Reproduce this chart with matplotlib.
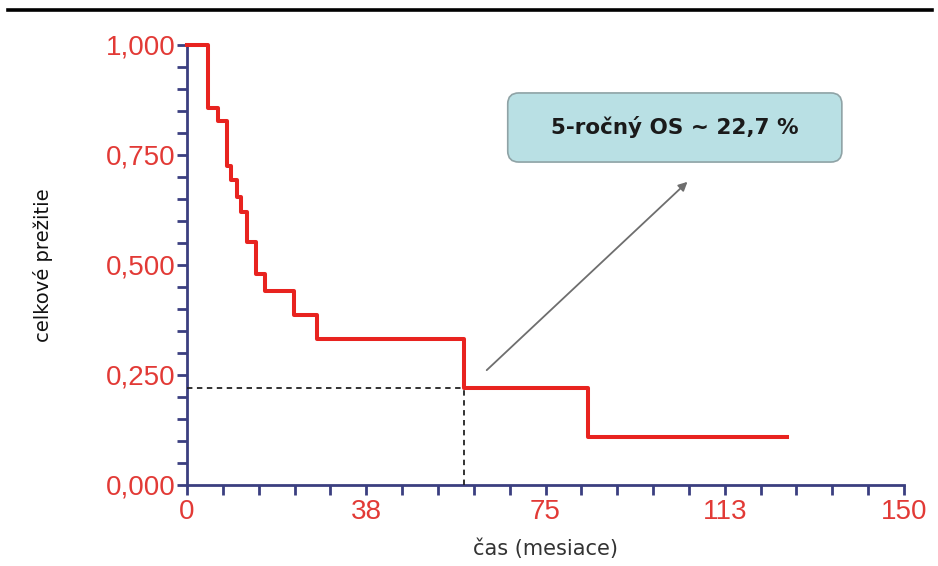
import matplotlib
matplotlib.use("Agg")
import matplotlib.pyplot as plt
from matplotlib.patches import FancyBboxPatch
from matplotlib.lines import Line2D
import numpy as np

# ---- data ----
times = [0, 4.4, 6.5, 8.4, 9.3, 10.4, 11.2, 12.6, 14.4, 16.3, 22.4, 27.1, 57.9, 83.8, 125.6]
survival = [1.0, 0.857, 0.828, 0.726, 0.693, 0.655, 0.621, 0.553, 0.479, 0.442, 0.386, 0.331, 0.220, 0.110, 0.110]
os_time = 57.9
os_value = 0.220
y_ticks_major = [0.0, 0.25, 0.5, 0.75, 1.0]
y_tick_labels = ["0,000", "0,250", "0,500", "0,750", "1,000"]
x_ticks_major = [0, 37.5, 75, 112.5, 150]
x_tick_labels = ["0", "38", "75", "113", "150"]
box_text = "5-ročný OS ~ 22,7 %"
xlabel = "čas (mesiace)"
ylabel = "celkové prežitie"

RED = "#e8231f"
RED_TXT = "#e23a36"
NAVY = "#3b3f80"

fig = plt.figure(figsize=(9.38, 5.66), dpi=100)
ax = fig.add_axes([187/938, 1-485/566, (904-187)/938, (485-45)/566])

ax.set_xlim(0, 150)
ax.set_ylim(0, 1)

# curve
ax.step(times, survival, where="post", color=RED, lw=2.9, clip_on=False, zorder=4)

# dashed guide lines
ax.plot([0, os_time], [os_value, os_value], ls=(0, (3, 2.5)), color="#222222", lw=1.3, zorder=3)
ax.plot([os_time, os_time], [0, os_value], ls=(0, (3, 2.5)), color="#222222", lw=1.3, zorder=3)

# spines
for s in ["top", "right"]:
    ax.spines[s].set_visible(False)
for s in ["left", "bottom"]:
    ax.spines[s].set_color(NAVY)
    ax.spines[s].set_linewidth(2)

ax.set_yticks(y_ticks_major)
ax.set_yticklabels(y_tick_labels)
ax.set_yticks(np.arange(0, 1.0001, 0.05), minor=True)
ax.set_xticks(x_ticks_major)
ax.set_xticklabels(x_tick_labels)
ax.set_xticks(np.arange(0, 150.001, 7.5), minor=True)

ax.tick_params(axis="both", which="both", direction="out", length=7, width=2, color=NAVY)
ax.tick_params(axis="y", which="major", labelsize=20, labelcolor=RED_TXT, pad=1)
ax.tick_params(axis="x", which="major", labelsize=20, labelcolor=RED_TXT, pad=3)
for lab in ax.get_xticklabels() + ax.get_yticklabels():
    lab.set_family(["Liberation Sans", "DejaVu Sans"])

ax.set_xlabel(xlabel, fontsize=15, color="#333333", family="DejaVu Sans", labelpad=10)
ax.set_ylabel(ylabel, fontsize=14, color="#111111", family="DejaVu Sans", labelpad=38)

# annotation box
mx = (150/718)
aspect = (1/440) / mx
box = FancyBboxPatch((67.1, 0.734), 137.0-67.1, 0.891-0.734,
                     boxstyle="round,pad=0,rounding_size=2.3",
                     mutation_aspect=aspect,
                     facecolor="#b9e0e4", edgecolor="#8fa3a6", lw=1.2,
                     clip_on=False, zorder=5)
ax.add_patch(box)
ax.text((67.1+137.0)/2, (0.734+0.891)/2, box_text, ha="center", va="center",
        fontsize=15.5, fontweight="bold", color="#1a1a1a", family="DejaVu Sans", zorder=6)

# arrow
ax.annotate("", xy=(104.7, 0.689), xytext=(62.7, 0.261),
            arrowprops=dict(arrowstyle="-|>", color="#6e6e6e", lw=1.3, mutation_scale=13,
                            shrinkA=0, shrinkB=0), zorder=5)

# top rule
fig.add_artist(Line2D([8/938, 932/938], [1-10/566, 1-10/566], color="black", lw=2.6,
                      transform=fig.transFigure))

fig.savefig("out.png", dpi=100)
